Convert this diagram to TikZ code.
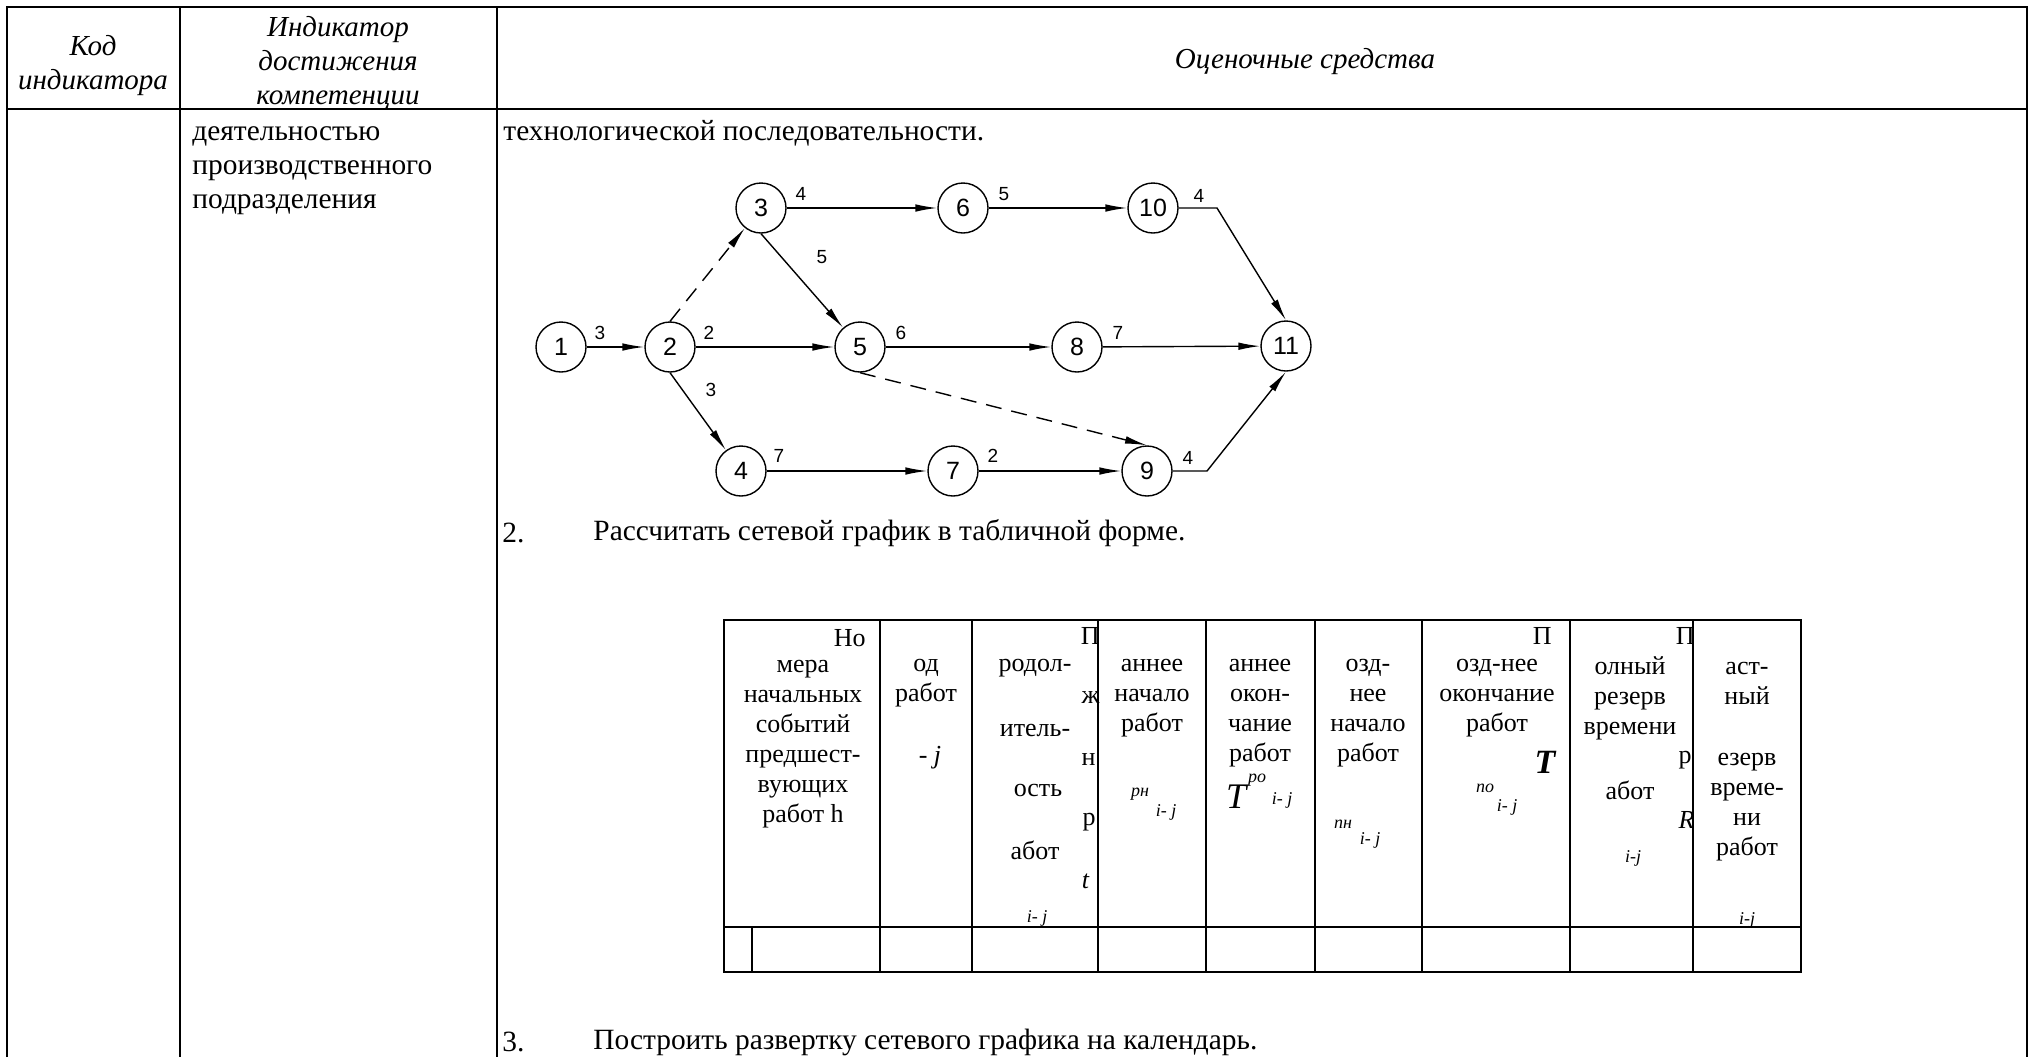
\documentclass[tikz,border=0pt]{standalone}
\usepackage{fontspec}
\setmainfont{Liberation Serif}
\newfontfamily\gostfont{Liberation Sans}
\usetikzlibrary{arrows.meta}

\begin{document}
\begin{tikzpicture}[x=0.5pt, y=-0.5pt,
  hdr/.style={font=\fontsize{14.5}{17}\selectfont\itshape, align=center, inner sep=0pt},
  body/.style={font=\fontsize{14.7}{17}\selectfont, align=left, inner sep=0pt, anchor=west},
  cell/.style={font=\fontsize{13}{15}\selectfont, align=center, inner sep=0pt},
  cellr/.style={cell, anchor=east},
  sub/.style={font=\fontsize{9}{10}\selectfont\itshape, inner sep=0pt},
  ev/.style={draw, circle, line width=0.7pt, minimum size=25pt, inner sep=0pt, font=\gostfont\fontsize{12.5}{14}\selectfont},
  lbl/.style={font=\gostfont\fontsize{9.5}{10}\selectfont, inner sep=0pt},
  arr/.style={-{Latex[length=11pt,width=3.8pt]}, line width=0.7pt},
  dummy/.style={arr, dash pattern=on 8pt off 5pt},
  rule/.style={line width=1.2pt}
]
\useasboundingbox (0,0) rectangle (2033,1057);

% outer table
\draw[rule] (7,1057) -- (7,7) -- (2027,7) -- (2027,1057);
\draw[rule] (7,109) -- (2027,109);
\draw[rule] (180,7) -- (180,1057);
\draw[rule] (497,7) -- (497,1057);

\node[hdr] (kod) at (93,66) {Код\\индикатора};
\node[hdr] (indic) at (338,63) {Индикатор\\достижения\\компетенции};
\node[hdr] (ocen) at (1305,62) {Оценочные средства};

\node[body] (deyat) at (192,171) {деятельностью\\производственного\\подразделения};
\node[body] (tehn) at (503,133) {технологической последовательности.};

% network graph
\node[ev] (e1)  at (561,347)  {1};
\node[ev] (e2)  at (670,347)  {2};
\node[ev] (e3)  at (761,208)  {3};
\node[ev] (e4)  at (741,471)  {4};
\node[ev] (e5)  at (860,347)  {5};
\node[ev] (e6)  at (963,208)  {6};
\node[ev] (e7)  at (953,471)  {7};
\node[ev] (e8)  at (1077,347) {8};
\node[ev] (e9)  at (1147,471) {9};
\node[ev] (e10) at (1153,208) {10};
\node[ev] (e11) at (1286,346) {11};
\coordinate (k10) at (1217,208);
\coordinate (k9) at (1207,471);

\draw[arr] (e1) -- (e2);
\draw[dummy] (e2.north) -- (e3);
\draw[arr] (e2) -- (e5);
\draw[arr] (e2.south) -- (e4);
\draw[arr] (e3) -- (e6);
\draw[arr] (e3.south) -- (e5);
\draw[arr] (e4) -- (e7);
\draw[arr] (e5) -- (e8);
\draw[dummy] (e5.south) -- (e9.north);
\draw[arr] (e6) -- (e10);
\draw[arr] (e7) -- (e9);
\draw[arr] (e8) -- (e11);
\draw[arr] (e10) -- (k10) -- (e11.north);
\draw[arr] (e9) -- (k9) -- (e11.south);

\node[lbl] (t12)   at (600,333)  {3};
\node[lbl] (t25)   at (709,333)  {2};
\node[lbl] (t24)   at (711,390)  {3};
\node[lbl] (t35)   at (822,257)  {5};
\node[lbl] (t36)   at (801,194)  {4};
\node[lbl] (t58)   at (901,333)  {6};
\node[lbl] (t47)   at (779,456)  {7};
\node[lbl] (t610)  at (1004,194) {5};
\node[lbl] (t79)   at (993,456)  {2};
\node[lbl] (t811)  at (1118,333) {7};
\node[lbl] (t1011) at (1199,196) {4};
\node[lbl] (t911)  at (1188,458) {4};

\node[body] (num2) at (502,533) {2.};
\node[body] (task2) at (593,533) {Рассчитать сетевой график в табличной форме.};

% inner table
\draw[rule] (724,620) rectangle (1801,972);
\draw[rule] (724,927) -- (1801,927);
\foreach \x in {880,972,1098,1206,1315,1422,1570,1693}
  \draw[rule] (\x,620) -- (\x,972);
\draw[rule] (752,927) -- (752,972);

\node[cellr] (aNo) at (866,638) {Но};
\node[cell] (aTxt) at (803,744) {мера\\начальных\\событий\\предшест-\\вующих\\работ h};

\node[cell] (bTxt) at (926,683) {од\\работ};
\node[cell] (bJ) at (930,758) {- \textit{j}};

\node[cellr] (cP) at (1100,636) {П};
\node[cell] (c1) at (1035,668) {родол-};
\node[cellr] (c2) at (1100,698) {ж};
\node[cell] (c3) at (1035,730) {итель-};
\node[cellr] (c4) at (1096,760) {н};
\node[cell] (c5) at (1038,790) {ость};
\node[cellr] (c6) at (1096,822) {р};
\node[cell] (c7) at (1035,850) {абот};
\node[cellr] (c8) at (1090,881) {\textit{t}};
\node[sub] (c9) at (1037,918) {i- j};

\node[cell] (dTxt) at (1152,698) {аннее\\начало\\работ};
\node[sub] (dSup) at (1140,794) {рн};
\node[sub] (dSub) at (1166,812) {i- j};

\node[cell] (eTxt) at (1260,713) {аннее\\окон-\\чание\\работ};
\node[font=\fontsize{18}{18}\selectfont\itshape, inner sep=0pt] (eT) at (1236,797) {T};
\node[sub] (eSup) at (1257,780) {ро};
\node[sub] (eSub) at (1282,800) {i- j};

\node[cell] (fTxt) at (1368,713) {озд-\\нее\\начало\\работ};
\node[sub] (fSup) at (1343,824) {пн};
\node[sub] (fSub) at (1370,840) {i- j};

\node[cellr] (gP) at (1552,636) {П};
\node[cell] (gTxt) at (1497,698) {озд-нее\\окончание\\работ};
\node[font=\fontsize{17}{17}\selectfont\bfseries\itshape, inner sep=0pt] (gT) at (1545,762) {T};
\node[sub] (gSup) at (1485,788) {по};
\node[sub] (gSub) at (1507,807) {i- j};

\node[cellr] (hP) at (1695,636) {П};
\node[cell] (hTxt) at (1630,698) {олный\\резерв\\времени};
\node[cellr] (hR1) at (1692,760) {р};
\node[cell] (hAb) at (1630,790) {абот};
\node[cellr] (hR) at (1695,820) {\textit{R}};
\node[sub] (hSub) at (1633,858) {i-j};

\node[cell] (iTxt1) at (1747,683) {аст-\\ный};
\node[cell] (iTxt2) at (1747,807) {езерв\\време-\\ни\\работ};
\node[sub] (iSub) at (1747,920) {i-j};

\node[body] (num3) at (502,1042) {3.};
\node[body] (task3) at (593,1042) {Построить развертку сетевого графика на календарь.};

\end{tikzpicture}
\end{document}
